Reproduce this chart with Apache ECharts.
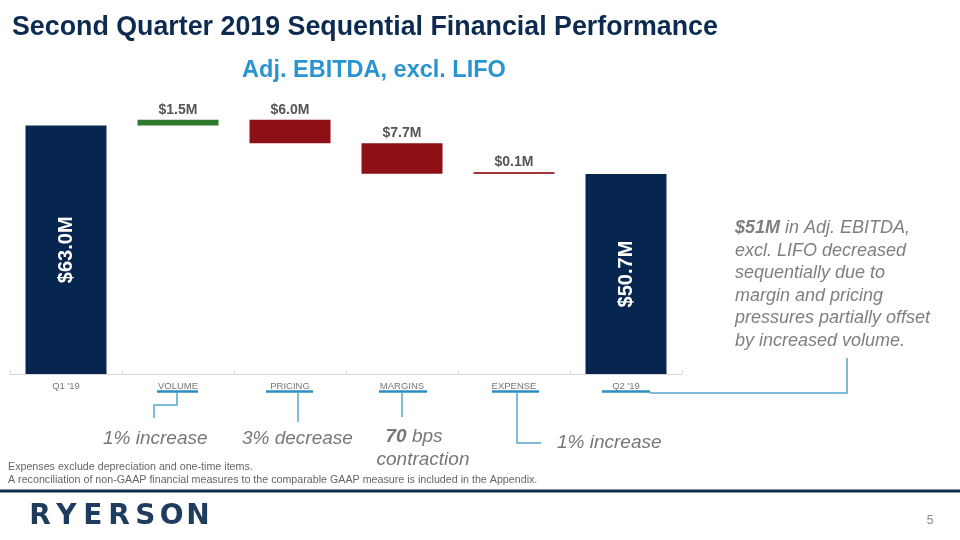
<!DOCTYPE html>
<html><head><meta charset="utf-8">
<script src="https://cdn.jsdelivr.net/npm/echarts@6/dist/echarts.min.js"></script>
<style>html,body{margin:0;padding:0;background:#fff}#c{width:960px;height:540px}</style>
</head><body><div id="c"></div>
<script>
// ---- data ----
const categories = ["Q1 '19", "VOLUME", "PRICING", "MARGINS", "EXPENSE", "Q2 '19"];
const startValue = 63.0;
const changes = [1.5, -6.0, -7.7, -0.1];
const endValue = 50.7;
const noteLines = ["{b|$51M} in Adj. EBITDA,", "excl. LIFO decreased", "sequentially due to", "margin and pricing", "pressures partially offset", "by increased volume."];
const footnotes = ["Expenses exclude depreciation and one-time items.", "A reconciliation of non-GAAP financial measures to the comparable GAAP measure is included in the Appendix."];

// ---- build waterfall ----
const base = [0], vals = [startValue], kinds = ['total'];
let running = startValue;
changes.forEach(c => {
  if (c >= 0) { base.push(running); vals.push(c); running += c; kinds.push('up'); }
  else { running += c; base.push(running); vals.push(-c); kinds.push('down'); }
});
base.push(0); vals.push(endValue); kinds.push('total');

const NAVY = '#06264f', GREEN = '#2f7a2e', RED = '#8c1015', RED_THIN = '#a3363a';
const narrow = "'Liberation Sans Narrow','Arial Narrow','Liberation Sans',Arial,sans-serif";
const sans = "'Liberation Sans',Arial,sans-serif";

const valueData = vals.map((v, i) => {
  const k = kinds[i];
  const color = k === 'total' ? NAVY : (k === 'up' ? GREEN : (v < 0.5 ? RED_THIN : RED));
  const d = { value: v, itemStyle: { color } };
  if (k === 'total') {
    d.label = { show: true, position: 'inside', rotate: 90, color: '#fff', fontSize: 20, fontWeight: 'bold', fontFamily: narrow };
  } else {
    d.label = { show: true, position: 'top', distance: 3, color: '#555', fontSize: 14, fontWeight: 'bold', fontFamily: narrow };
  }
  return d;
});

const chart = echarts.init(document.getElementById('c'), null, { renderer: 'canvas' });
const option = {
  animation: false,
  backgroundColor: '#fff',
  grid: { left: 10, right: 278, top: 98, bottom: 166, containLabel: false },
  xAxis: {
    type: 'category', data: categories,
    axisLine: { lineStyle: { color: '#d9d9d9', width: 1 } },
    axisTick: { show: true, inside: true, length: 4, lineStyle: { color: '#e2e2e2' } },
    axisLabel: { color: '#777', fontSize: 9.5, fontFamily: sans, margin: 7 }
  },
  yAxis: { type: 'value', min: 0, max: 70, show: false, splitLine: { show: false } },
  series: [
    { type: 'bar', stack: 'w', data: base, itemStyle: { color: 'transparent' }, barWidth: 81, silent: true },
    { type: 'bar', stack: 'w', data: valueData, barWidth: 81, barMinHeight: 2,
      label: { formatter: p => '$' + p.value.toFixed(1) + 'M' } }
  ]
};
chart.setOption(option);

const cx = categories.map(c => chart.convertToPixel({ xAxisIndex: 0 }, c));
const UL = '#2b8fbf', CN = '#56a7cb';
const g = [];
// title
g.push({ type: 'text', style: { text: 'Second Quarter 2019 Sequential Financial Performance', x: 12, y: 28, fill: '#0d2a50', font: "bold 26.8px " + sans, textAlign: 'left', textVerticalAlign: 'middle', align: 'left', verticalAlign: 'middle' } });
g.push({ type: 'text', style: { text: 'Adj. EBITDA, excl. LIFO', x: 374, y: 71, fill: '#2a94d0', font: "bold 23.5px " + sans, textAlign: 'center', textVerticalAlign: 'middle', align: 'center', verticalAlign: 'middle' } });
// underlines
const ul = [[1, -21, 20], [2, -24, 23], [3, -23, 25], [4, -22, 25], [5, -24, 24]];
ul.forEach(([i, a, b]) => g.push({ type: 'line', shape: { x1: cx[i] + a, y1: 391.5, x2: cx[i] + b, y2: 391.5 }, style: { stroke: UL, lineWidth: 2.5 } }));
// connectors
const poly = pts => g.push({ type: 'polyline', shape: { points: pts }, style: { stroke: CN, lineWidth: 1.5, fill: null } });
poly([[cx[1] - 1, 392], [cx[1] - 1, 405], [cx[1] - 24, 405], [cx[1] - 24, 418]]);
poly([[cx[2] + 8, 392], [cx[2] + 8, 422]]);
poly([[cx[3], 392], [cx[3], 417]]);
poly([[cx[4] + 3, 392], [cx[4] + 3, 443], [cx[4] + 27, 443]]);
poly([[cx[5] + 24, 393], [847, 393], [847, 358]]);
// annotations
const ann = (text, x, y, align, rich) => g.push({ type: 'text', style: { text, x, y, fill: '#777', font: "italic 19px " + sans, textAlign: align, textVerticalAlign: 'middle', align, verticalAlign: 'middle', rich } });
const richB = { b: { fontWeight: 'bold', fontStyle: 'italic', fontSize: 19, fontFamily: sans, fill: '#777' } };
ann('1% increase', 103, 439, 'left');
ann('3% decrease', 242, 439, 'left');
ann('{b|70} bps', 414, 437, 'center', richB);
ann('contraction', 423, 460, 'center');
ann('1% increase', 557, 443, 'left');
// right note
noteLines.forEach((t, i) => g.push({ type: 'text', style: { text: t, x: 735, y: 228 + i * 22.5, fill: '#7f7f7f', font: "italic 18px " + sans, textAlign: 'left', textVerticalAlign: 'middle', align: 'left', verticalAlign: 'middle', rich: { b: { fontWeight: 'bold', fontStyle: 'italic', fontSize: 18, fontFamily: sans, fill: '#7f7f7f' } } } }));
// footnotes
footnotes.forEach((t, i) => g.push({ type: 'text', style: { text: t, x: 8, y: 467 + i * 13, fill: '#666', font: "10.7px " + sans, textAlign: 'left', textVerticalAlign: 'middle', align: 'left', verticalAlign: 'middle' } }));
// bottom rule
g.push({ type: 'rect', shape: { x: 0, y: 489.5, width: 960, height: 3 }, style: { fill: '#0f2b4a' } });
// logo
const logo = 'RYERSON'.split('');
logo.forEach((ch, i) => g.push({ type: 'text', style: { text: ch, x: 27 + 184 / 7 * (i + 0.5), y: 517, fill: '#1d3c5e', font: "bold 28px 'DejaVu Sans',sans-serif", textAlign: 'center', textVerticalAlign: 'middle', align: 'center', verticalAlign: 'middle' } }));
g.push({ type: 'text', style: { text: '5', x: 930, y: 521, fill: '#888', font: "12px " + sans, textAlign: 'center', textVerticalAlign: 'middle', align: 'center', verticalAlign: 'middle' } });

chart.setOption({ graphic: { elements: g } });
</script>
</body></html>
